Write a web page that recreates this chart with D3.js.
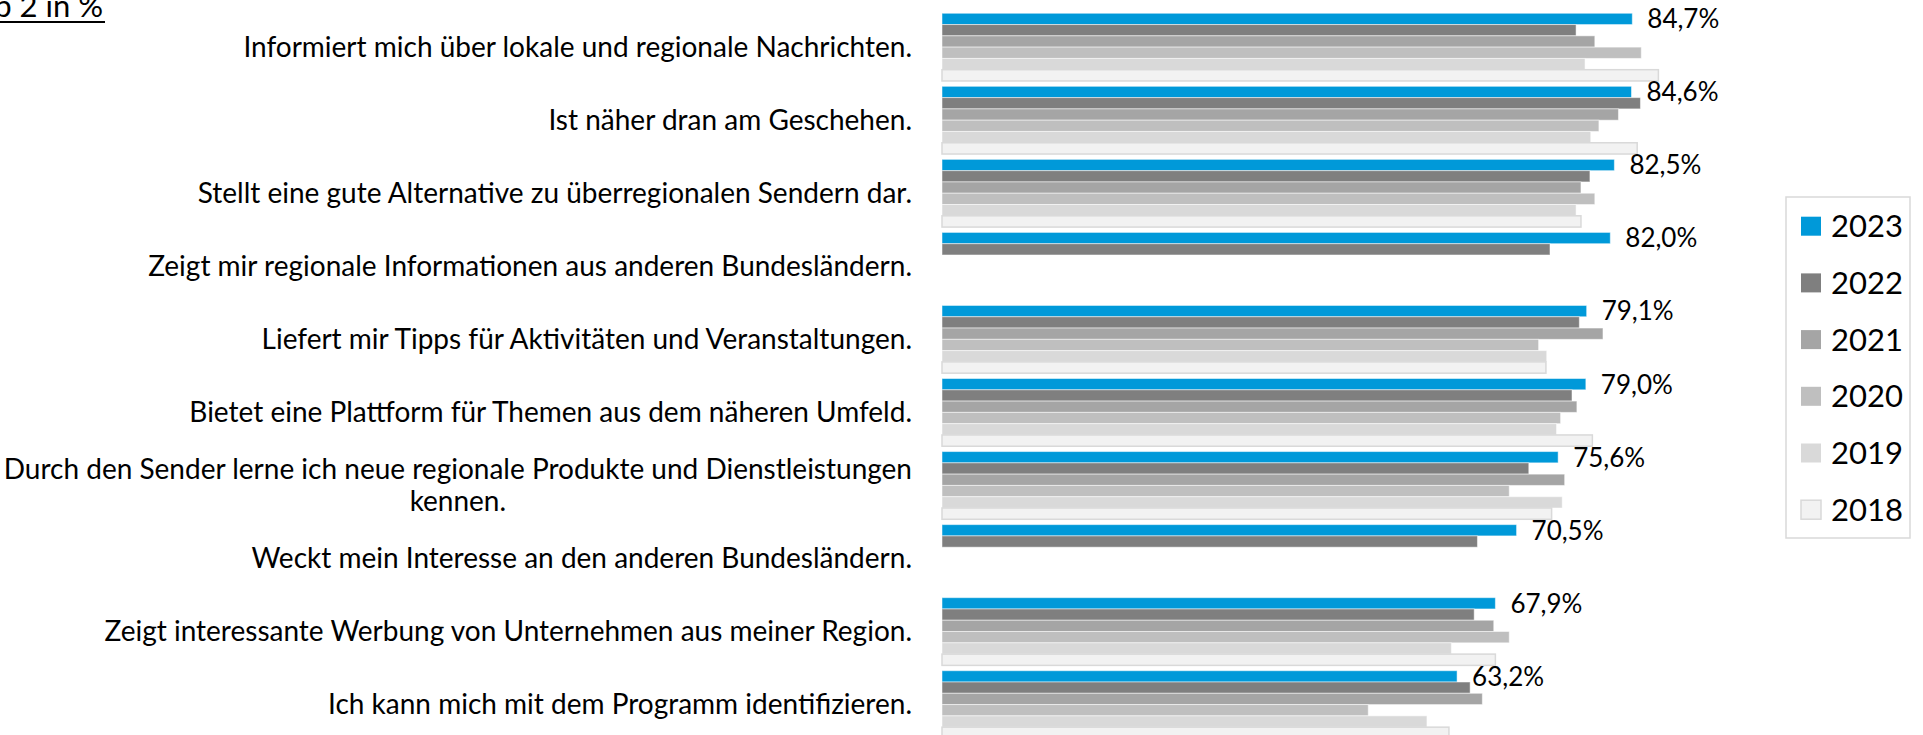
<!DOCTYPE html>
<html>
<head>
<meta charset="utf-8">
<script src="https://cdn.jsdelivr.net/npm/d3@7"></script>
<style>
  body { margin: 0; background: #fff; }
  text { font-family: Lato, "Open Sans", sans-serif; fill: #000; }
</style>
</head>
<body>
<div id="chart"></div>
<script>
// categories (top to bottom), "\n" marks a line break
const categories = [
    "Informiert mich über lokale und regionale Nachrichten.",
    "Ist näher dran am Geschehen.",
    "Stellt eine gute Alternative zu überregionalen Sendern dar.",
    "Zeigt mir regionale Informationen aus anderen Bundesländern.",
    "Liefert mir Tipps für Aktivitäten und Veranstaltungen.",
    "Bietet eine Plattform für Themen aus dem näheren Umfeld.",
    "Durch den Sender lerne ich neue regionale Produkte und Dienstleistungen\nkennen.",
    "Weckt mein Interesse an den anderen Bundesländern.",
    "Zeigt interessante Werbung von Unternehmen aus meiner Region.",
    "Ich kann mich mit dem Programm identifizieren."
];
const years = ["2023", "2022", "2021", "2020", "2019", "2018"];

// values per year, in % (null = not asked that year)
const v2023 = [84.7, 84.6, 82.5, 82.0, 79.1, 79.0, 75.6, 70.5, 67.9, 63.2];
const v2022 = [77.8, 85.7, 79.5, 74.6, 78.2, 77.3, 72.0, 65.7, 65.3, 64.8];
const v2021 = [80.1, 83.0, 78.4, null, 81.1, 77.9, 76.4, null, 67.7, 66.3];
const v2020 = [85.8, 80.6, 80.1, null, 73.2, 75.9, 69.6, null, 69.6, 52.3];
const v2019 = [78.9, 79.6, 77.8, null, 74.2, 75.4, 76.1, null, 62.5, 59.5];
const v2018 = [87.9, 85.3, 78.4, null, 74.1, 79.8, 74.8, null, 67.9, 62.2];
const series = { "2023": v2023, "2022": v2022, "2021": v2021, "2020": v2020, "2019": v2019, "2018": v2018 };

const colors = {
    "2023": "#0099d9", "2022": "#7f7f7f", "2021": "#a5a5a5",
    "2020": "#bfbfbf", "2019": "#d9d9d9", "2018": "#f2f2f2"
};

const W = 1923, H = 735;

const svg = d3.select("#chart").append("svg")
    .attr("width", W)
    .attr("height", H);

// scales
const x = d3.scaleLinear().domain([0, 100]).range([942, 1757]);
const y = d3.scaleBand()
    .domain(categories)
    .range([10.6, 741.1])
    .paddingInner(0.073)
    .paddingOuter(0.0365);
const ySub = d3.scaleBand().domain(years).range([0, y.bandwidth()]);

// title, cut off at the top left corner like in the original
svg.append("text")
    .attr("x", 103)
    .attr("y", 17)
    .attr("text-anchor", "end")
    .style("font-size", "31px")
    .text("Top 2 in %");
svg.append("line")
    .attr("x1", 0).attr("x2", 105)
    .attr("y1", 22).attr("y2", 22)
    .attr("stroke", "#000")
    .attr("stroke-width", 2);

// bars
const groups = svg.selectAll("g.cat")
    .data(categories)
    .enter().append("g")
    .attr("class", "cat")
    .attr("transform", d => `translate(0,${y(d)})`);

groups.selectAll("rect")
    .data((c, i) => years.filter(yr => series[yr][i] != null).map(yr => ({ year: yr, value: series[yr][i] })))
    .enter().append("rect")
    .attr("x", x(0))
    .attr("y", d => ySub(d.year))
    .attr("width", d => x(d.value) - x(0))
    .attr("height", ySub.bandwidth())
    .attr("fill", d => colors[d.year])
    .attr("stroke", d => d.year === "2018" ? "#d9d9d9" : "#ffffff")
    .attr("stroke-opacity", d => d.year === "2018" ? 1 : 0.5)
    .attr("stroke-width", d => d.year === "2018" ? 1.5 : 1);

// value labels for 2023
groups.append("text")
    .attr("x", (c, i) => x(v2023[i]) + 15)
    .attr("y", ySub("2023") + ySub.bandwidth() / 2)
    .attr("dy", "0.36em")
    .style("font-size", "26px")
    .text((c, i) => d3.format(".1f")(v2023[i]).replace(".", ",") + "%");

// category labels, right aligned; wrapped lines centred on each other
const labelRight = 912;
groups.each(function (c) {
    const g = d3.select(this);
    const lines = c.split("\n");
    const lh = 32;
    const t = g.append("text")
        .style("font-size", "28px")
        .attr("y", y.bandwidth() / 2 - (lines.length - 1) * lh / 2);
    lines.forEach((l, k) => {
        t.append("tspan").attr("dy", k === 0 ? "0.35em" : lh).text(l);
    });
    if (lines.length === 1) {
        t.attr("text-anchor", "end");
        t.selectAll("tspan").attr("x", labelRight);
    } else {
        const wMax = d3.max(t.selectAll("tspan").nodes(), n => n.getComputedTextLength());
        t.attr("text-anchor", "middle");
        t.selectAll("tspan").attr("x", labelRight - wMax / 2);
    }
});

// legend
const legend = svg.append("g").attr("transform", "translate(1786,197)");
legend.append("rect")
    .attr("width", 124)
    .attr("height", 341)
    .attr("fill", "#fff")
    .attr("stroke", "#d9d9d9")
    .attr("stroke-width", 1.5);
const item = legend.selectAll("g.item")
    .data(years)
    .enter().append("g")
    .attr("class", "item")
    .attr("transform", (d, i) => `translate(15,${19.7 + i * 56.7})`);
item.append("rect")
    .attr("width", 20)
    .attr("height", 19)
    .attr("fill", d => colors[d])
    .attr("stroke", d => d === "2018" ? "#d9d9d9" : "none")
    .attr("stroke-width", 1.5);
item.append("text")
    .attr("x", 30)
    .attr("y", 9.5)
    .attr("dy", "0.36em")
    .style("font-size", "31px")
    .text(d => d);
</script>
</body>
</html>
